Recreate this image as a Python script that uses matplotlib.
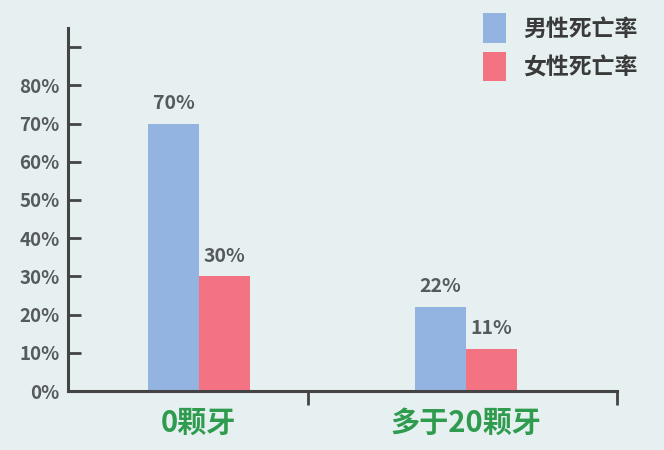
import numpy as np
import matplotlib.pyplot as plt

plt.rcParams['font.family'] = ['Noto Sans CJK SC', 'DejaVu Sans']

# --- 数据 ---
categories = ['0颗牙', '多于20颗牙']
male = [70, 22]     # 男性死亡率 (%)
female = [30, 11]   # 女性死亡率 (%)
series_names = ['男性死亡率', '女性死亡率']
yticks = [0, 10, 20, 30, 40, 50, 60, 70, 80]

bg = '#e6f0f0'
blue = '#93b3e0'
red = '#f47383'
grey = '#555a5c'
green = '#2e9b4e'

fig = plt.figure(figsize=(6.64, 4.5), dpi=100, facecolor=bg)
ax = fig.add_axes([0.1024, 0.131, 0.827, 0.8067], facecolor=bg)

x = np.arange(len(categories))
w = 0.19
b1 = ax.bar(x - w / 2, male, w, color=blue, label=series_names[0])
b2 = ax.bar(x + w / 2, female, w, color=red, label=series_names[1])

for bars in (b1, b2):
    for r in bars:
        ax.text(r.get_x() + r.get_width() / 2, r.get_height() + 2.8,
                f'{r.get_height():.0f}%', ha='center', va='bottom',
                fontsize=14, fontweight='bold', color=grey)

ax.set_xlim(-0.49, 1.566)
ax.set_ylim(0, 95)

# y 轴刻度 (朝内), 顶部多一个空刻度
ax.set_yticks(yticks + [90])
ax.set_yticklabels([f'{v}%' for v in yticks] + [''])
ax.tick_params(axis='y', direction='in', length=9, width=2, color='#444444',
               labelsize=13.5, labelcolor=grey, pad=6)
for t in ax.get_yticklabels():
    t.set_fontweight('bold')

# x 轴: 分隔刻度朝下, 类别标签单独放
ax.set_xticks([0.408, 1.566])
ax.set_xticklabels([])
ax.tick_params(axis='x', direction='out', length=10, width=2, color='#444444')
for xi, c in zip(x, categories):
    ax.text(xi, -4.5, c, ha='center', va='top', fontsize=21,
            fontweight='bold', color=green, transform=ax.transData)

for s in ['top', 'right']:
    ax.spines[s].set_visible(False)
for s in ['left', 'bottom']:
    ax.spines[s].set_color('#444444')
    ax.spines[s].set_linewidth(2.2)

leg = fig.legend(loc='upper left', bbox_to_anchor=(0.697, 1.016), frameon=False,
                 prop={'size': 16.5, 'weight': 'bold'}, handlelength=1.0,
                 handleheight=1.6, handletextpad=0.75, labelspacing=0.4)
for t in leg.get_texts():
    t.set_color('#3a3a3a')

fig.savefig('out.png', dpi=100, facecolor=bg)
